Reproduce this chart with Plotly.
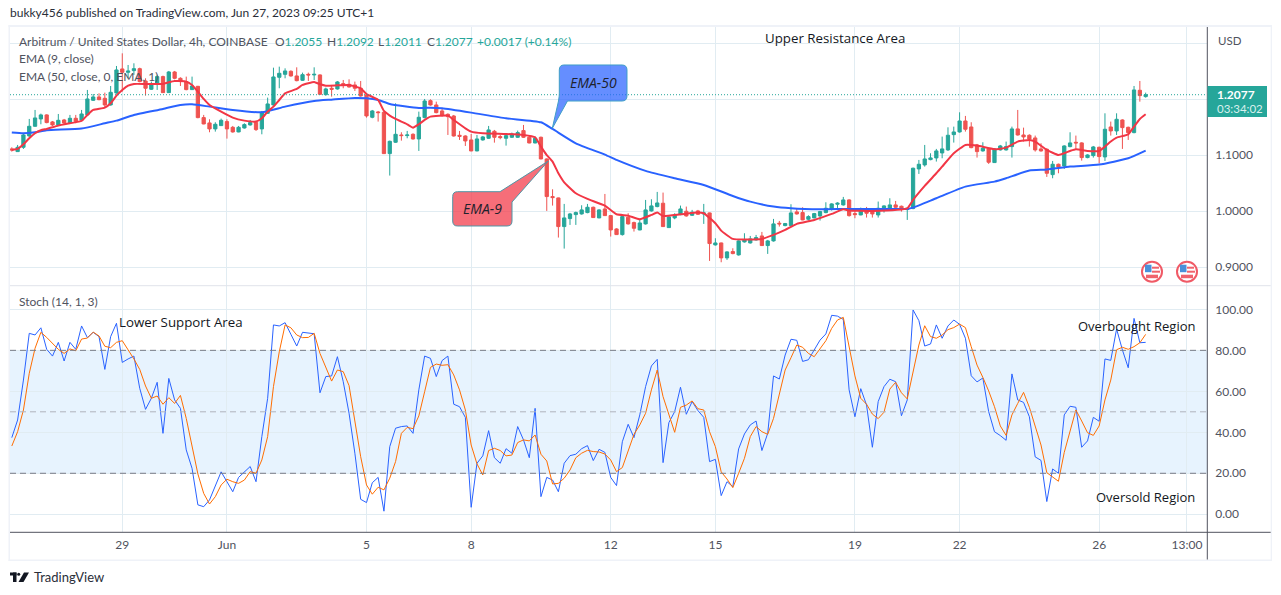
import plotly.graph_objects as go
from plotly.subplots import make_subplots

# candles, one every 4h
opens = [1.1109,1.1061,1.1138,1.1341,1.1513,1.1644,1.1716,1.1591,1.1537,1.1626,1.1573,1.1656,1.1626,1.1716,1.1977,1.2037,1.2013,1.1894,1.2108,1.2537,
         1.2477,1.2507,1.2542,1.2322,1.2174,1.2281,1.2400,1.2114,1.2483,1.2370,1.2311,1.2168,1.2227,1.1668,1.1573,1.1466,1.1525,1.1597,1.1495,1.1412,
         1.1483,1.1537,1.1585,1.1466,1.1745,1.1894,1.2388,1.2441,1.2495,1.2412,1.2334,1.2441,1.2430,1.2430,1.2078,1.2192,1.2180,1.2275,1.2263,1.2251,
         1.2192,1.2072,1.1674,1.1769,1.1763,1.1025,1.1228,1.1358,1.1347,1.1370,1.1287,1.1668,1.1971,1.1894,1.1787,1.1727,1.1697,1.1352,1.1340,1.1269,
         1.1073,1.1269,1.1299,1.1424,1.1329,1.1299,1.1317,1.1317,1.1436,1.1317,1.1215,1.1317,1.0930,1.0258,1.0234,0.9722,0.9865,0.9936,0.9948,0.9972,
         1.0067,0.9877,1.0037,0.9918,0.9680,0.9579,0.9889,0.9793,0.9662,0.9770,1.0002,1.0079,1.0139,0.9704,0.9877,0.9936,0.9996,0.9924,1.0002,0.9948,
         0.9966,0.9395,0.9430,0.9163,0.9276,0.9216,0.9448,0.9430,0.9484,0.9555,0.9383,0.9466,0.9782,0.9740,0.9740,0.9984,0.9972,0.9853,0.9877,0.9912,
         0.9972,1.0031,1.0121,1.0109,1.0198,0.9954,0.9930,1.0026,1.0002,0.9930,1.0044,1.0049,1.0109,1.0085,1.0026,1.0044,1.0752,1.0823,1.0918,1.0948,
         1.1037,1.1091,1.1364,1.1412,1.1608,1.1501,1.1180,1.1073,1.1109,1.0865,1.1091,1.1091,1.1150,1.1466,1.1358,1.1353,1.1305,1.1109,1.1103,1.0650,
         1.0835,1.0805,1.1150,1.1228,1.1216,1.0954,1.0990,1.1138,1.0966,1.1501,1.1430,1.1626,1.1495,1.1400,1.2156,1.2043]
highs = [1.1138,1.1180,1.1388,1.1644,1.1805,1.1739,1.1727,1.1608,1.1733,1.1644,1.1716,1.1716,1.1805,1.2162,1.2090,1.2102,1.2114,1.2233,1.2590,1.2816,
         1.2608,1.2638,1.2560,1.2370,1.2311,1.2430,1.2418,1.2501,1.2501,1.2388,1.2400,1.2400,1.2233,1.1716,1.1638,1.1585,1.1650,1.1638,1.1519,1.1519,
         1.1567,1.1626,1.1608,1.1787,1.2025,1.2560,1.2578,1.2548,1.2513,1.2566,1.2471,1.2471,1.2566,1.2441,1.2203,1.2251,1.2322,1.2340,1.2352,1.2311,
         1.2322,1.2084,1.1805,1.1787,1.1775,1.1257,1.1924,1.1406,1.1430,1.1388,1.1775,1.2001,1.1995,1.1953,1.1834,1.1745,1.1715,1.1430,1.1352,1.1376,
         1.1358,1.1340,1.1519,1.1448,1.1358,1.1364,1.1400,1.1436,1.1537,1.1340,1.1329,1.1329,1.0942,1.0388,1.0240,1.0127,0.9966,0.9990,1.0103,1.0127,
         1.0079,1.0031,1.0305,0.9930,0.9692,0.9930,0.9960,0.9811,0.9859,1.0198,1.0210,1.0341,1.0329,0.9924,0.9960,1.0097,1.0079,1.0020,1.0020,1.0127,
         0.9972,0.9514,0.9436,0.9282,0.9335,0.9478,0.9603,0.9555,0.9573,0.9627,0.9484,0.9859,0.9823,0.9787,1.0121,1.0049,1.0067,0.9924,0.9966,1.0002,
         1.0156,1.0139,1.0156,1.0252,1.0210,1.0008,1.0061,1.0073,1.0049,1.0169,1.0103,1.0228,1.0180,1.0097,1.0061,1.0775,1.0912,1.1180,1.1031,1.1109,
         1.1329,1.1495,1.1507,1.1763,1.1698,1.1585,1.1198,1.1228,1.1121,1.1121,1.1180,1.1240,1.1507,1.1805,1.1489,1.1370,1.1347,1.1210,1.1121,1.0894,
         1.0847,1.1174,1.1406,1.1347,1.1228,1.1013,1.1162,1.1150,1.1745,1.1597,1.1745,1.1638,1.1507,1.2233,1.2322,1.2114]
lows = [1.1061,1.1055,1.1109,1.1323,1.1507,1.1549,1.1567,1.1519,1.1531,1.1555,1.1561,1.1567,1.1614,1.1704,1.1965,1.1977,1.1846,1.1882,1.2096,1.2132,
        1.2370,1.2430,1.2299,1.2061,1.2162,1.2162,1.2108,1.2108,1.2352,1.2233,1.2156,1.2162,1.1656,1.1549,1.1406,1.1418,1.1519,1.1293,1.1400,1.1406,
        1.1472,1.1525,1.1430,1.1370,1.1733,1.1882,1.2192,1.2370,1.2400,1.2316,1.2322,1.2322,1.2340,1.2072,1.2061,1.2043,1.2168,1.2192,1.2203,1.2144,
        1.2043,1.1668,1.1656,1.1597,1.1019,1.0633,1.1216,1.1257,1.1299,1.1275,1.1073,1.1656,1.1882,1.1745,1.1685,1.1358,1.1329,1.1269,1.1162,1.1067,
        1.1067,1.1257,1.1287,1.1221,1.1281,1.1168,1.1305,1.1305,1.1305,1.1209,1.1209,1.0924,1.0002,1.0097,0.9526,0.9329,0.9752,0.9752,0.9936,0.9960,
        0.9877,0.9871,0.9912,0.9544,0.9573,0.9561,0.9758,0.9633,0.9657,0.9758,0.9990,1.0067,0.9716,0.9698,0.9853,0.9924,0.9900,0.9912,0.9930,0.9770,
        0.9109,0.9383,0.9085,0.9127,0.9228,0.9204,0.9436,0.9419,0.9472,0.9377,0.9234,0.9454,0.9722,0.9728,0.9734,0.9936,0.9835,0.9829,0.9871,0.9829,
        0.9960,1.0008,1.0055,1.0097,0.9900,0.9871,0.9925,0.9883,0.9883,0.9883,0.9972,1.0038,1.0055,0.9990,0.9841,1.0032,1.0662,1.0793,1.0906,1.0883,
        1.0942,1.1073,1.1222,1.1400,1.1418,1.1121,1.0954,1.1061,1.0841,1.0859,1.1079,1.1079,1.0954,1.1347,1.1240,1.1150,1.1061,1.1061,1.0609,1.0585,
        1.0674,1.0752,1.1138,1.1109,1.0900,1.0942,1.0954,1.0853,1.0894,1.1347,1.1358,1.1109,1.1269,1.1388,1.1953,1.2025]
closes = [1.1091,1.1138,1.1358,1.1513,1.1662,1.1716,1.1579,1.1537,1.1620,1.1573,1.1656,1.1602,1.1733,1.2001,1.2037,1.1989,1.1894,1.2120,1.2519,1.2477,
          1.2501,1.2542,1.2311,1.2192,1.2263,1.2400,1.2114,1.2483,1.2370,1.2311,1.2168,1.2233,1.1668,1.1555,1.1466,1.1549,1.1620,1.1466,1.1412,1.1495,
          1.1543,1.1579,1.1454,1.1763,1.1912,1.2394,1.2459,1.2501,1.2412,1.2328,1.2435,1.2430,1.2441,1.2084,1.2180,1.2174,1.2305,1.2257,1.2215,1.2192,
          1.2055,1.1698,1.1787,1.1757,1.1025,1.1245,1.1370,1.1347,1.1358,1.1287,1.1674,1.1965,1.1894,1.1757,1.1715,1.1685,1.1340,1.1334,1.1251,1.1073,
          1.1287,1.1323,1.1448,1.1317,1.1311,1.1346,1.1376,1.1400,1.1317,1.1215,1.1299,1.0930,1.0258,1.0240,0.9722,0.9877,0.9948,0.9972,1.0020,1.0067,
          0.9883,1.0020,0.9918,0.9662,0.9579,0.9900,0.9770,0.9692,0.9787,1.0020,1.0091,1.0144,0.9722,0.9895,0.9930,1.0037,0.9912,0.9978,0.9942,0.9966,
          0.9419,0.9430,0.9163,0.9270,0.9240,0.9466,0.9484,0.9502,0.9526,0.9383,0.9466,0.9770,0.9770,0.9776,0.9966,0.9948,0.9841,0.9900,0.9954,0.9990,
          1.0049,1.0127,1.0139,1.0198,0.9918,0.9936,1.0002,0.9960,0.9948,1.0049,1.0091,1.0109,1.0067,1.0032,1.0049,1.0764,1.0835,1.0930,1.0948,1.1073,
          1.1109,1.1353,1.1412,1.1608,1.1460,1.1132,1.1061,1.1121,1.0871,1.1109,1.1162,1.1150,1.1466,1.1358,1.1323,1.1287,1.1091,1.1073,1.0674,1.0835,
          1.0787,1.1162,1.1216,1.1216,1.0954,1.1001,1.1144,1.0972,1.1460,1.1430,1.1638,1.1489,1.1400,1.2162,1.2061,1.2077]

# EMA lines, bar number and value at the bends
ema9_bars = [0,1,2,3,4,5,6,8,10,12,13,14,16,17,18,19,20,21,23,26,27,28,30,31,32,33,34,36,38,40,42,43,44,45,46,47,49,50,52,53,54,56,58,60,61,63,64,65,66,68,69,70,71,72,
             75,76,78,79,81,85,88,90,91,92,93,94,95,97,99,102,104,106,108,110,111,112,115,118,119,121,122,124,129,131,133,135,138,141,143,144,
             148,154,155,157,159,160,162,164,166,169,171,173,175,176,178,180,182,183,185,187,188,189,190,192,193,194,195]
ema9_vals = [1.1091,1.1109,1.1192,1.1299,1.1388,1.1442,1.1466,1.1525,1.1567,1.1608,1.1716,1.1805,1.1846,1.1924,1.2061,1.2162,1.2239,1.2269,1.2269,1.2269,1.2299,1.2322,1.2311,1.2251,1.2132,1.2001,1.1894,1.1775,1.1668,1.1614,1.1597,1.1656,1.1775,1.1864,1.1983,1.2102,1.2180,1.2251,1.2305,1.2263,1.2239,1.2245,1.2251,1.2192,1.2090,1.1983,1.1787,1.1704,1.1644,1.1549,1.1489,1.1549,1.1626,1.1686,
             1.1703,1.1626,1.1477,1.1418,1.1388,1.1376,1.1358,1.1317,1.1150,1.0999,1.0882,1.0674,1.0513,1.0317,1.0216,1.0097,0.9942,0.9918,0.9853,0.9930,0.9972,0.9912,0.9942,0.9972,0.9960,0.9782,0.9650,0.9502,0.9502,0.9573,0.9662,0.9770,0.9841,0.9948,1.0031,1.0008,
             1.0002,1.0049,1.0198,1.0448,1.0674,1.0793,1.1031,1.1180,1.1168,1.1103,1.1132,1.1240,1.1269,1.1240,1.1091,1.1001,1.1073,1.1103,1.1073,1.1073,1.1150,1.1240,1.1311,1.1370,1.1507,1.1644,1.1727]
ema50_bars = [0,2,4,6,12,16,18,21,26,29,31,34,38,43,47,52,55,59,61,63,65,70,72,74,79,85,91,93,97,102,104,109,114,119,124,127,131,134,139,144,154,155,159,164,169,171,175,178,182,187,192,195]
ema50_vals = [1.1400,1.1388,1.1406,1.1442,1.1472,1.1567,1.1614,1.1716,1.1823,1.1894,1.1906,1.1864,1.1805,1.1763,1.1864,1.1965,1.1989,1.2019,1.2013,1.1983,1.1912,1.1840,1.1846,1.1834,1.1757,1.1656,1.1584,1.1465,1.1209,1.1007,1.0912,1.0716,1.0585,1.0466,1.0269,1.0168,1.0079,1.0049,1.0031,1.0038,1.0038,1.0061,1.0228,1.0436,1.0525,1.0585,1.0722,1.0740,1.0793,1.0829,1.0942,1.1079]

stoch_k = [37.4,46,65.5,88.3,87.5,91,80.5,77.2,83.9,74.8,83.9,80.5,91.9,86.2,88.8,86.7,70.7,86.7,93.2,74.1,
           75.8,77.2,61.5,51.2,56.6,64.4,39.5,66.3,55.8,51.7,31.4,22.4,4.6,3.7,7,13.5,20.7,15.9,11,18,
           20.8,23.3,15.9,37.9,56.6,92.4,91.9,93.5,87.8,82.1,88.8,88.6,88.1,59.3,67.2,67.5,76.9,64.7,49.3,29.8,
           7.3,5.7,15.4,18,1.5,33,42,42.8,43.1,39.5,60.7,77.2,76.1,67.2,75,77.2,53.7,52.5,47.3,3.4,
           24.9,28.5,40.8,27.6,24.9,32,29.8,42.8,36.3,27.6,51.7,8.6,18,16.7,11,24.9,28.6,29.3,32,33.5,
           26.2,31.7,30.2,18,14,35.4,43.9,37.4,48.5,62.3,72.4,75.6,25.2,44.7,50.1,62,48.8,55,50.6,47.3,
           25.7,26.8,9.1,15.9,13.5,31.9,39.2,43.6,45.5,31.1,39.5,67.5,66,77.7,85.4,84.9,74.6,75.4,80.2,85,
           88,97.1,96.7,95.1,60.7,47.6,61.3,53.3,32.7,55,62.3,65.9,64.7,48.1,55.8,99.7,94.5,82.1,83.1,92.4,
           85.9,91.9,94.8,92.7,85.9,67.6,64.6,66.5,50.1,40.3,38.4,36.1,68.5,55.8,54.6,47.6,28,26.3,6.2,22.1,
           20,48.5,52.7,52.2,32.7,35.8,47.3,45.4,75.8,75.1,90.4,80.2,71.5,95.6,83.7,83.9]
stoch_d = [33.3,40.3,50.9,68.8,81,88.8,86.3,83.4,80.5,78.5,80.7,79.8,85.5,86,88.9,87,82,81.3,83.9,84.7,
           80.5,75.8,70.7,62.6,56.6,57.7,53.7,56.9,54.1,58,46.8,33.8,19.7,10.2,5,8.6,14.3,17.1,15.9,15.1,
           16.7,20.8,20,26.5,37.9,62.3,79.3,92.4,91,87.5,86.2,86.3,88.3,78.5,71.7,65,70.4,69.6,62.8,44.4,
           28.1,14.3,9.8,13.2,11.9,17.6,25.7,39.5,42.4,41.8,48,59.8,71.7,73.3,72.7,73,68,60.7,50.9,33.8,
           24.6,19.2,31.1,32.2,31.1,28.5,28.9,35,36.3,35.8,38.7,29.3,26,14.8,15.1,17.6,21.6,27.6,29.8,31.2,
           30.6,30.4,29.4,26.5,20.8,22.8,31.4,39,43.6,49.3,60.7,70.4,57.4,48.9,40,52.2,53.3,55.3,51.5,50.9,
           40.3,33,20.7,17.2,13,20,27.3,37.9,42.8,40.3,39,46.8,58.2,70.4,76.4,82.6,81.5,78.5,76.9,81,
           84.7,90.7,94.8,96.1,81.8,67.5,56.6,53.7,48.9,46.7,49.8,61.1,64.4,59.3,56.3,68.8,82.6,92,86.7,85.9,
           87.5,90.1,91.1,92.8,91.1,81.8,72.8,66.8,60.2,52.5,43.1,38.5,48.5,54.1,59.5,52.2,42.8,33.8,20.3,18.4,
           16.1,30.2,40.3,50.9,45.5,39.8,38.5,43.1,55.8,65.5,80.3,81.5,80.5,81.8,83.7,87.8]

bars = list(range(len(closes)))
last_price = 1.2077

date_ticks = [19, 37, 61, 79, 103, 121, 145, 163, 187, 202.1]
date_labels = ["29", "Jun", "5", "8", "12", "15", "19", "22", "26", "13:00"]
price_ticks = [0.9, 1.0, 1.1, 1.2, 1.3]
price_labels = ["0.9000", "1.0000", "1.1000", "", ""]
stoch_ticks = [0, 20, 40, 60, 80, 100]
stoch_labels = ["0.00", "20.00", "40.00", "60.00", "80.00", "100.00"]

W, H = 1281, 595
FONT = "Lato"
NOTE_FONT = "Open Sans"
GREEN, RED = "#26a69a", "#ef5350"
GRID = "#e1ecf2"
TEXT = "#50535e"
FRAME = "#eff2f8"


def px(x):
    return x / W


def py(y):
    return 1 - y / H


fig = make_subplots(rows=2, cols=1, shared_xaxes=True)

fig.add_trace(go.Candlestick(
    x=bars, open=opens, high=highs, low=lows, close=closes,
    increasing=dict(line=dict(color=GREEN, width=1), fillcolor=GREEN),
    decreasing=dict(line=dict(color=RED, width=1), fillcolor=RED),
    whiskerwidth=0,
), row=1, col=1)
fig.add_trace(go.Scatter(x=ema50_bars, y=ema50_vals, mode="lines",
                         line=dict(color="#2962ff", width=2, shape="spline", smoothing=0.5)), row=1, col=1)
fig.add_trace(go.Scatter(x=ema9_bars, y=ema9_vals, mode="lines",
                         line=dict(color="#f23645", width=2, shape="spline", smoothing=0.4)), row=1, col=1)

fig.add_trace(go.Scatter(x=bars, y=stoch_k, mode="lines",
                         line=dict(color="#2962ff", width=1)), row=2, col=1)
fig.add_trace(go.Scatter(x=bars, y=stoch_d, mode="lines",
                         line=dict(color="#ff6d00", width=1)), row=2, col=1)

x_range = [-0.31, 205.6]
x_domain = [px(10), px(1207.3)]
tick_font = dict(family=FONT, size=12, color=TEXT)

fig.update_xaxes(range=x_range, domain=x_domain, tickvals=date_ticks, ticktext=date_labels,
                 showgrid=True, gridcolor=GRID, gridwidth=1, zeroline=False, ticks="",
                 showline=False, rangeslider_visible=False, tickfont=tick_font)
fig.update_xaxes(showticklabels=False, row=1, col=1)
fig.update_xaxes(showticklabels=True, ticklabelstandoff=4, row=2, col=1)

fig.update_yaxes(range=[0.867, 1.3286], domain=[py(285.5), py(27)], side="right",
                 tickvals=price_ticks, ticktext=price_labels, row=1, col=1)
fig.update_yaxes(range=[-8.8, 111.4], domain=[py(532.3), py(286)], side="right",
                 tickvals=stoch_ticks, ticktext=stoch_labels, row=2, col=1)
fig.update_yaxes(showgrid=True, gridcolor=GRID, gridwidth=1, zeroline=False, ticks="",
                 showline=False, tickfont=tick_font, ticklabelstandoff=7)

# stochastic band and its levels
fig.add_shape(type="rect", xref="x2 domain", yref="y2", x0=0, x1=1, y0=20, y1=80,
              fillcolor="rgba(33,150,243,0.11)", line_width=0, layer="below")
for level, colour in [(80, "#787b86"), (50, "#b0b3bd"), (20, "#787b86")]:
    fig.add_shape(type="line", xref="x2 domain", yref="y2", x0=0, x1=1, y0=level, y1=level,
                  line=dict(color=colour, width=1, dash="6px,4px"))

# last price line
fig.add_shape(type="line", xref="x domain", yref="y", x0=0, x1=1, y0=last_price, y1=last_price,
              line=dict(color=GREEN, width=1, dash="1px,2px"))


def paper_line(x0, y0, x1, y1, colour, width=1):
    fig.add_shape(type="line", xref="paper", yref="paper", x0=px(x0), y0=py(y0), x1=px(x1), y1=py(y1),
                  line=dict(color=colour, width=width))


def paper_rect(x0, y0, x1, y1, colour):
    fig.add_shape(type="rect", xref="paper", yref="paper", x0=px(x0), y0=py(y0), x1=px(x1), y1=py(y1),
                  fillcolor=colour, line_width=0)


# frame around the chart
paper_rect(8.5, 25, 1272, 27, FRAME)
paper_rect(8.5, 559.5, 1272, 561, FRAME)
paper_rect(8.5, 25, 10, 561, FRAME)
paper_rect(1270.7, 25, 1272, 561, FRAME)
paper_line(10, 285.7, 1270.7, 285.7, "#e0e3eb")
paper_line(10, 532.3, 1270.7, 532.3, "#50535e")
paper_line(1207.3, 27, 1207.3, 559.5, "#50535e")


def path_of(points):
    cmds = []
    for p in points:
        if p[0] == "Q":
            cmds.append(f"Q{px(p[1]):.5f},{py(p[2]):.5f} {px(p[3]):.5f},{py(p[4]):.5f}")
        else:
            cmds.append(f"{p[0]}{px(p[1]):.5f},{py(p[2]):.5f}")
    return " ".join(cmds) + " Z"


# callouts
fig.add_shape(type="path", xref="paper", yref="paper",
              path=path_of([("M", 564, 65), ("L", 622, 65), ("Q", 627, 65, 627, 70), ("L", 627, 96),
                            ("Q", 627, 101, 622, 101), ("L", 567.5, 101), ("L", 552.3, 128.3), ("L", 558.5, 101),
                            ("Q", 559.3, 96, 559.3, 94), ("L", 559.3, 70), ("Q", 559.3, 65, 564, 65)]),
              fillcolor="rgba(41,98,255,0.72)", line=dict(color="#3f9fc7", width=1))
fig.add_shape(type="path", xref="paper", yref="paper",
              path=path_of([("M", 457.5, 191.7), ("L", 500, 191.7), ("L", 548.3, 161), ("L", 512, 202),
                            ("L", 512, 221), ("Q", 512, 226, 507, 226), ("L", 457.5, 226),
                            ("Q", 452.7, 226, 452.7, 221), ("L", 452.7, 196.5), ("Q", 452.7, 191.7, 457.5, 191.7)]),
              fillcolor="rgba(242,54,69,0.72)", line=dict(color="#4f96a6", width=1))

# flag badges under the candles
for cx in [1152, 1187]:
    cy = 271.7
    fig.add_shape(type="circle", xref="paper", yref="paper", x0=px(cx - 10), x1=px(cx + 10),
                  y0=py(cy + 10), y1=py(cy - 10), fillcolor="#ffffff", line=dict(color="#f05a66", width=2))
    paper_rect(cx - 7, cy - 7, cx - 0.5, cy + 0.5, "#4a90d9")
    paper_rect(cx, cy - 5, cx + 7, cy - 3, "#f0626c")
    paper_rect(cx, cy - 1, cx + 8, cy + 1, "#f0626c")
    paper_rect(cx - 6, cy + 3, cx + 6, cy + 6.5, "#f0626c")

# TradingView mark
paper_rect(10, 572.5, 16.5, 575.5, "#131722")
paper_rect(13, 572.5, 16.5, 582, "#131722")
fig.add_shape(type="circle", xref="paper", yref="paper", x0=px(17.2), x1=px(20.2), y0=py(575.7), y1=py(572.7),
              fillcolor="#131722", line_width=0)
fig.add_shape(type="path", xref="paper", yref="paper",
              path=path_of([("M", 24, 572.5), ("L", 29, 572.5), ("L", 23.5, 582), ("L", 18.5, 582)]),
              fillcolor="#131722", line_width=0)


def label(x, y, text, size=12, colour=TEXT, anchor="left", family=FONT):
    fig.add_annotation(xref="paper", yref="paper", x=px(x), y=py(y), text=text, showarrow=False,
                       xanchor=anchor, yanchor="middle", align=anchor, borderpad=0,
                       font=dict(family=family, size=size, color=colour))


label(9, 12, "bukky456 published on TradingView.com, Jun 27, 2023 09:25 UTC+1", 12, "#2a2e39")
label(18, 41.5, "Arbitrum / United States Dollar, 4h, COINBASE")
for x, key, value in [(274, "O", "1.2055"), (325.7, "H", "1.2092"), (376.7, "L", "1.2011"), (425.7, "C", "1.2077")]:
    label(x, 41.5, f'{key}<span style="color:{GREEN}">{value}</span>')
label(476, 41.5, "+0.0017 (+0.14%)", 12, GREEN)
label(18, 59, "EMA (9, close)")
label(18, 76, "EMA (50, close, 0, EMA, 1)")
label(18, 301, "Stoch (14, 1, 3)")
label(1217, 40.5, "USD", 11.5)

label(764, 38, "Upper Resistance Area", 13.3, "#131722", family=NOTE_FONT)
label(118, 321.5, "Lower Support Area", 13.3, "#131722", family=NOTE_FONT)
label(1196, 326, "Overbought Region", 13, "#131722", anchor="right", family=NOTE_FONT)
label(1196, 496.5, "Oversold Region", 13, "#131722", anchor="right", family=NOTE_FONT)

label(593, 83, "<i>EMA-50</i>", 14, "#1e222d", anchor="center", family=NOTE_FONT)
label(482.5, 208.5, "<i>EMA-9</i>", 14, "#1e222d", anchor="center", family=NOTE_FONT)

# last price tag on the axis
paper_rect(1207.5, 86, 1267, 117, GREEN)
label(1215.5, 94.5, "<b>1.2077</b>", 12, "#ffffff")
label(1215.5, 108.5, "03:34:02", 11.5, "#d8f0ed")

label(33, 577, "TradingView", 13, "#2a2e39")

fig.update_layout(
    width=W, height=H, autosize=False,
    margin=dict(l=0, r=0, t=0, b=0),
    paper_bgcolor="#ffffff", plot_bgcolor="#ffffff",
    showlegend=False, boxgap=0.2,
    hovermode=False,
)

fig.write_html("out.html", config=dict(displayModeBar=False),
               post_script="document.body.style.margin='0';")
